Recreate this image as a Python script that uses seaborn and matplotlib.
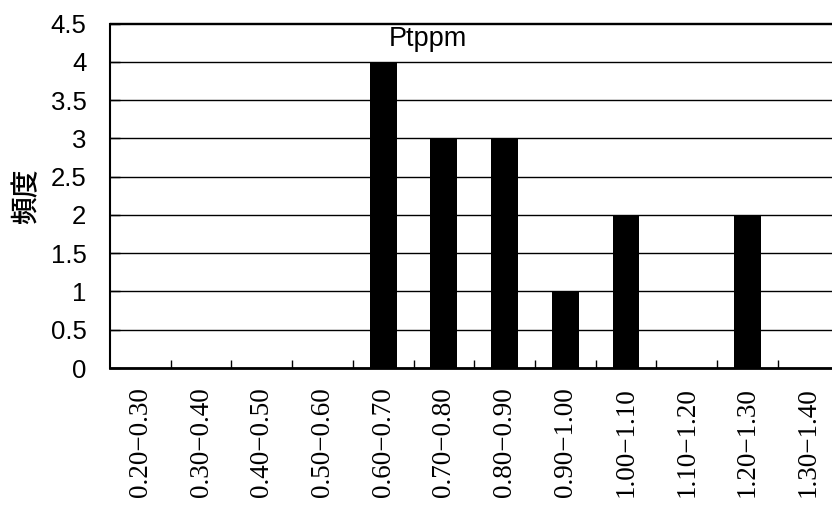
import matplotlib
matplotlib.use("Agg")
import matplotlib.pyplot as plt
from matplotlib.ticker import MultipleLocator, FixedLocator
import seaborn as sns
import pandas as pd

# Frequency table of Pt content (ppm) per class interval
bins = ["0.20−0.30", "0.30−0.40", "0.40−0.50", "0.50−0.60",
        "0.60−0.70", "0.70−0.80", "0.80−0.90", "0.90−1.00",
        "1.00−1.10", "1.10−1.20", "1.20−1.30", "1.30−1.40"]
counts = [0, 0, 0, 0, 4, 3, 3, 1, 2, 0, 2, 0]
title = "Ptppm"
ylabel = "頻度"

df = pd.DataFrame({"bin": bins, "count": counts})

sns.set_style("white")
plt.rcParams["font.family"] = ["Liberation Sans", "DejaVu Sans"]
for key in ("text.color", "axes.labelcolor", "xtick.color", "ytick.color"):
    plt.rcParams[key] = "black"

W, H = 832, 508
fig = plt.figure(figsize=(W / 100, H / 100), dpi=100)
left, right, top, bottom = 110, 838.4, 23.5, 368
ax = fig.add_axes([left / W, (H - bottom) / H, (right - left) / W, (bottom - top) / H])

sns.barplot(data=df, x="bin", y="count", color="black", saturation=1,
            width=0.44, linewidth=0, ax=ax)

ax.set_xlim(-0.5, len(bins) - 0.5)
ax.set_ylim(0, 4.5)
ax.yaxis.set_major_locator(MultipleLocator(0.5))
ax.set_yticklabels([f"{v:g}" for v in ax.get_yticks()])

# horizontal gridlines behind the bars
ax.set_axisbelow(True)
ax.yaxis.grid(True, color="black", linewidth=1.0)
ax.xaxis.grid(False)

ax.spines["right"].set_visible(False)
ax.spines["top"].set_linewidth(1.0)
ax.spines["left"].set_linewidth(1.5)
ax.spines["bottom"].set_linewidth(2.0)
for s in ax.spines.values():
    s.set_color("black")

# category tick marks sit on the boundaries between classes
ax.xaxis.set_minor_locator(FixedLocator([i + 0.5 for i in range(len(bins) - 1)]))
ax.tick_params(axis="x", which="minor", direction="in", length=6, width=1, color="black", bottom=True)
ax.tick_params(axis="x", which="major", length=0, pad=14)
ax.tick_params(axis="y", which="major", direction="in", length=7, width=1, color="black",
               pad=17, labelsize=18.5, left=True, labelcolor="black")

ax.set_xlabel("")
ax.set_ylabel("")
for lab in ax.get_xticklabels():
    lab.set_rotation(90)
    lab.set_family(["Liberation Serif", "DejaVu Serif"])
    lab.set_fontsize(19.5)
    lab.set_color("black")
    lab.set_ha("center")
    lab.set_va("top")

fig.text(428 / W, (H - 46) / H, title, ha="center", va="baseline",
         fontsize=19.5, family=["Liberation Sans", "DejaVu Sans"], color="black")
fig.text(26 / W, (H - 196) / H, ylabel, ha="center", va="center", rotation=90,
         fontsize=20, fontweight="medium", family=["Noto Sans CJK JP", "DejaVu Sans"],
         color="black")

fig.savefig("out.png", dpi=100)
